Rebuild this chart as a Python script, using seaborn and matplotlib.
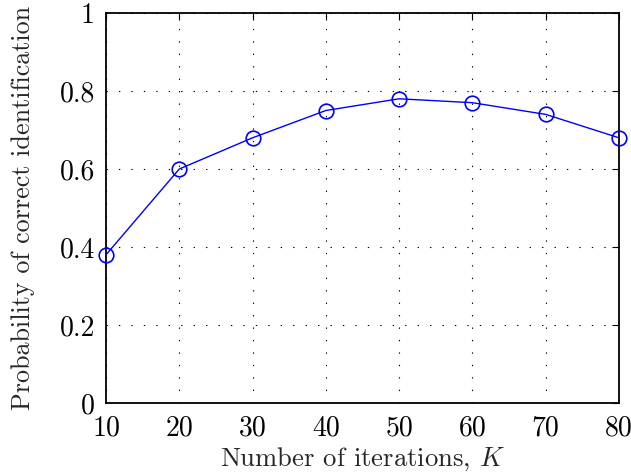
import matplotlib
matplotlib.use("Agg")
import matplotlib.pyplot as plt
import seaborn as sns
import pandas as pd

iterations = [10, 20, 30, 40, 50, 60, 70, 80]
prob_correct = [0.38, 0.60, 0.68, 0.75, 0.78, 0.77, 0.74, 0.68]
x_ticks = [10, 20, 30, 40, 50, 60, 70, 80]
y_ticks = [0, 0.2, 0.4, 0.6, 0.8, 1]
y_tick_labels = ["0", "0.2", "0.4", "0.6", "0.8", "1"]

sns.set_style("white")
plt.rcParams["font.family"] = ["cmr10"]
plt.rcParams["mathtext.fontset"] = "cm"
plt.rcParams["axes.formatter.use_mathtext"] = True

df = pd.DataFrame({"K": iterations, "P": prob_correct})

fig = plt.figure(figsize=(6.31, 4.74), dpi=100)
ax = fig.add_axes([106/631, 1 - 403/474, (619-106)/631, (403-13)/474])

sns.lineplot(data=df, x="K", y="P", ax=ax, color=(0, 0, 1), linewidth=1.0,
             marker="o", markersize=10.5, markerfacecolor="none",
             markeredgecolor=(0, 0, 1), markeredgewidth=1.2, clip_on=False, zorder=5)

ax.set_xlim(10, 80)
ax.set_ylim(0, 1)
ax.set_xticks(x_ticks)
ax.set_xticklabels([str(v) for v in x_ticks])
ax.set_yticks(y_ticks)
ax.set_yticklabels(y_tick_labels)

ax.grid(True, linestyle=(0, (1.2, 10)), color="black", linewidth=0.8)
for s in ax.spines.values():
    s.set_visible(True)
    s.set_color("black")
    s.set_linewidth(1.3)

ax.tick_params(direction="in", length=5, width=0.8, top=True, right=True,
               labelsize=20, colors="black")
ax.tick_params(axis="x", pad=9)
ax.tick_params(axis="y", pad=8)
ax.set_xlabel("Number of iterations, $K$", fontsize=19.2, labelpad=3)
ax.set_ylabel("Probability of correct identification", fontsize=18.8, labelpad=18)

fig.savefig("out.png", dpi=100)
